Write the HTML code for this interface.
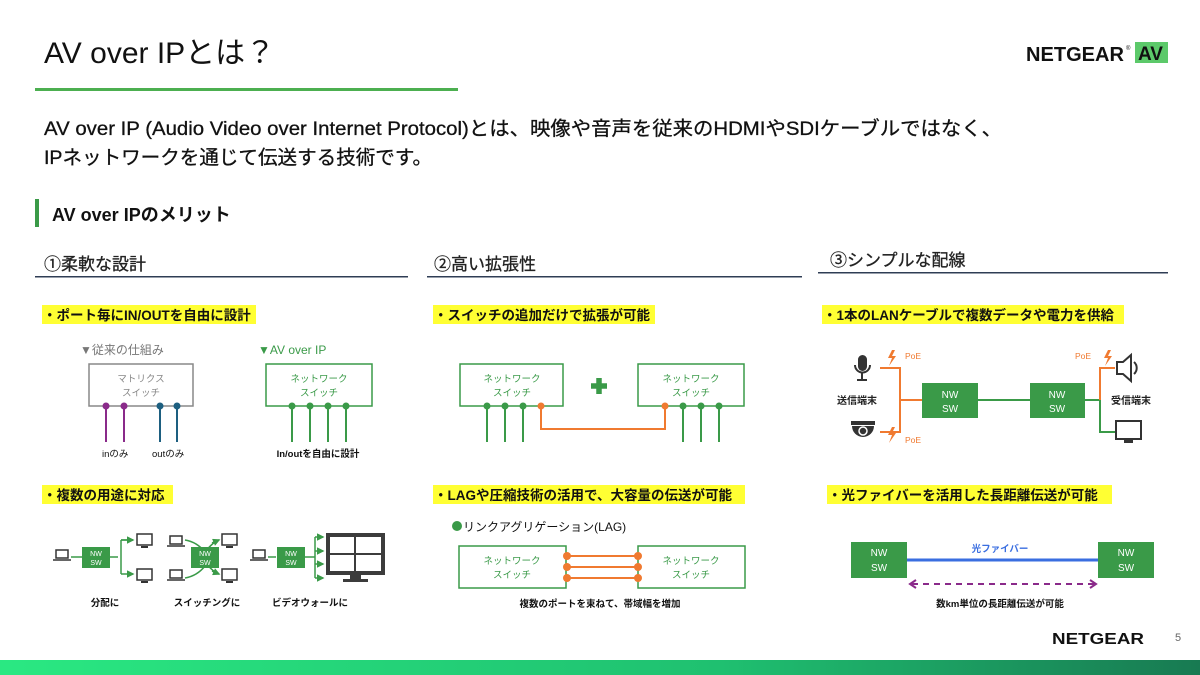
<!DOCTYPE html>
<html><head><meta charset="utf-8"><style>
html,body{margin:0;padding:0;background:#fff}
svg{display:block}
text{font-family:"Liberation Sans","Noto Sans CJK JP",sans-serif}
</style></head><body>
<svg width="1200" height="675" viewBox="0 0 1200 675" xmlns="http://www.w3.org/2000/svg">
<defs>
<linearGradient id="g" x1="0" x2="1"><stop offset="0" stop-color="#2ae882"/><stop offset="0.6" stop-color="#1fc070"/><stop offset="1" stop-color="#187a52"/></linearGradient>
<marker id="ah" viewBox="0 0 10 10" refX="8" refY="5" markerWidth="5" markerHeight="5" orient="auto"><path d="M0,0L10,5L0,10z" fill="#3a9a48"/></marker>
</defs>
<!-- header -->
<text x="44" y="63" font-size="30" fill="#111">AV over IPとは？</text>
<rect x="35" y="88" width="423" height="3" fill="#4caf50"/>
<text x="1026" y="61" font-size="20" font-weight="bold" fill="#111" textLength="98" lengthAdjust="spacingAndGlyphs">NETGEAR</text>
<text x="1126" y="50" font-size="6" fill="#111">®</text>
<rect x="1135" y="42" width="33" height="21" fill="#5cc96a"/>
<text x="1138" y="60" font-size="19" font-weight="bold" fill="#111">AV</text>
<text x="44" y="135" font-size="19.5" fill="#111" stroke="#111" stroke-width="0.3" textLength="958" lengthAdjust="spacingAndGlyphs">AV over IP (Audio Video over Internet Protocol)とは、映像や音声を従来のHDMIやSDIケーブルではなく、</text>
<text x="44" y="164" font-size="19.5" fill="#111" stroke="#111" stroke-width="0.3" textLength="388" lengthAdjust="spacingAndGlyphs">IPネットワークを通じて伝送する技術です。</text>
<rect x="35" y="199" width="4" height="28" fill="#3a9a48"/>
<text x="52" y="221" font-size="18" font-weight="bold" fill="#111">AV over IPのメリット</text>
<!-- section headers -->
<text x="44" y="270" font-size="17" fill="#222" stroke="#222" stroke-width="0.3">①柔軟な設計</text>
<rect x="35" y="276" width="373" height="1.5" fill="#2f3d55"/>
<text x="434" y="270" font-size="17" fill="#222" stroke="#222" stroke-width="0.3">②高い拡張性</text>
<rect x="427" y="276" width="375" height="1.5" fill="#2f3d55"/>
<text x="830" y="266" font-size="17" fill="#222" stroke="#222" stroke-width="0.3">③シンプルな配線</text>
<rect x="818" y="272" width="350" height="1.5" fill="#2f3d55"/>
<!-- highlights -->
<g font-size="13.5" font-weight="bold" fill="#111">
<rect x="42" y="305" width="214" height="19" fill="#ffff33"/><text x="43" y="320">・ポート毎にIN/OUTを自由に設計</text>
<rect x="433" y="305" width="222" height="19" fill="#ffff33"/><text x="434" y="320">・スイッチの追加だけで拡張が可能</text>
<rect x="822" y="305" width="302" height="19" fill="#ffff33"/><text x="823" y="320">・1本のLANケーブルで複数データや電力を供給</text>
<rect x="42" y="485" width="131" height="19" fill="#ffff33"/><text x="43" y="500">・複数の用途に対応</text>
<rect x="433" y="485" width="312" height="19" fill="#ffff33"/><text x="434" y="500">・LAGや圧縮技術の活用で、大容量の伝送が可能</text>
<rect x="827" y="485" width="285" height="19" fill="#ffff33"/><text x="828" y="500">・光ファイバーを活用した長距離伝送が可能</text>
</g>
<!-- diagram 1a -->
<text x="80" y="354" font-size="12" fill="#777">▼従来の仕組み</text>
<rect x="89" y="364" width="104" height="42" fill="none" stroke="#888" stroke-width="1.5"/>
<text x="141" y="382" font-size="9.5" fill="#888" text-anchor="middle">マトリクス</text>
<text x="141" y="396" font-size="9.5" fill="#888" text-anchor="middle">スイッチ</text>
<g stroke-width="2"><line x1="106" y1="406" x2="106" y2="442" stroke="#8a2a8a"/><line x1="124" y1="406" x2="124" y2="442" stroke="#8a2a8a"/><line x1="160" y1="406" x2="160" y2="442" stroke="#1d5f80"/><line x1="177" y1="406" x2="177" y2="442" stroke="#1d5f80"/></g>
<circle cx="106" cy="406" r="3.5" fill="#8a2a8a"/><circle cx="124" cy="406" r="3.5" fill="#8a2a8a"/><circle cx="160" cy="406" r="3.5" fill="#1d5f80"/><circle cx="177" cy="406" r="3.5" fill="#1d5f80"/>
<text x="102" y="457" font-size="9.5" fill="#111">inのみ</text><text x="152" y="457" font-size="9.5" fill="#111">outのみ</text>
<text x="258" y="354" font-size="12" fill="#3a9a48">▼AV over IP</text>
<rect x="266" y="364" width="106" height="42" fill="none" stroke="#3a9a48" stroke-width="1.5"/>
<text x="319" y="382" font-size="9.5" fill="#3a9a48" text-anchor="middle">ネットワーク</text>
<text x="319" y="396" font-size="9.5" fill="#3a9a48" text-anchor="middle">スイッチ</text>
<g stroke="#3a9a48" stroke-width="2"><line x1="292" y1="406" x2="292" y2="442"/><line x1="310" y1="406" x2="310" y2="442"/><line x1="328" y1="406" x2="328" y2="442"/><line x1="346" y1="406" x2="346" y2="442"/></g>
<g fill="#3a9a48"><circle cx="292" cy="406" r="3.5"/><circle cx="310" cy="406" r="3.5"/><circle cx="328" cy="406" r="3.5"/><circle cx="346" cy="406" r="3.5"/></g>
<text x="318" y="457" font-size="9.5" font-weight="bold" fill="#111" text-anchor="middle">In/outを自由に設計</text>
<!-- diagram 2a -->
<rect x="460" y="364" width="103" height="42" fill="none" stroke="#3a9a48" stroke-width="1.5"/>
<text x="512" y="382" font-size="9.5" fill="#3a9a48" text-anchor="middle">ネットワーク</text><text x="512" y="396" font-size="9.5" fill="#3a9a48" text-anchor="middle">スイッチ</text>
<rect x="638" y="364" width="106" height="42" fill="none" stroke="#3a9a48" stroke-width="1.5"/>
<text x="691" y="382" font-size="9.5" fill="#3a9a48" text-anchor="middle">ネットワーク</text><text x="691" y="396" font-size="9.5" fill="#3a9a48" text-anchor="middle">スイッチ</text>
<path d="M591,386h16M599,378v16" stroke="#3a9a48" stroke-width="5.5"/>
<g stroke="#3a9a48" stroke-width="2"><line x1="487" y1="406" x2="487" y2="442"/><line x1="505" y1="406" x2="505" y2="442"/><line x1="523" y1="406" x2="523" y2="442"/><line x1="683" y1="406" x2="683" y2="442"/><line x1="701" y1="406" x2="701" y2="442"/><line x1="719" y1="406" x2="719" y2="442"/></g>
<path d="M541,406V429H665V406" fill="none" stroke="#f07a30" stroke-width="2"/>
<g fill="#3a9a48"><circle cx="487" cy="406" r="3.5"/><circle cx="505" cy="406" r="3.5"/><circle cx="523" cy="406" r="3.5"/><circle cx="683" cy="406" r="3.5"/><circle cx="701" cy="406" r="3.5"/><circle cx="719" cy="406" r="3.5"/></g>
<circle cx="541" cy="406" r="3.5" fill="#f07a30"/><circle cx="665" cy="406" r="3.5" fill="#f07a30"/>
<!-- diagram 3a -->
<path d="M880,368H900V432H880M900,400H922" fill="none" stroke="#f07a30" stroke-width="2"/>
<rect x="922" y="383" width="56" height="35" fill="#3a9a48"/>
<text x="950" y="398" font-size="10" fill="#fff" text-anchor="middle">NW</text><text x="950" y="412" font-size="10" fill="#fff" text-anchor="middle">SW</text>
<line x1="978" y1="400" x2="1030" y2="400" stroke="#3a9a48" stroke-width="2"/>
<rect x="1030" y="383" width="55" height="35" fill="#3a9a48"/>
<text x="1057" y="398" font-size="10" fill="#fff" text-anchor="middle">NW</text><text x="1057" y="412" font-size="10" fill="#fff" text-anchor="middle">SW</text>
<path d="M1085,400H1100V432H1115" fill="none" stroke="#3a9a48" stroke-width="2"/>
<path d="M1100,400V368H1115" fill="none" stroke="#f07a30" stroke-width="2"/>
<g fill="#f07a30"><path d="M892,350l-4,8h4l-3,8l7,-10h-4l3,-6z"/><path d="M892,427l-4,8h4l-3,8l7,-10h-4l3,-6z"/><path d="M1108,350l-4,8h4l-3,8l7,-10h-4l3,-6z"/></g>
<g font-size="8.5" fill="#f07a30"><text x="905" y="359">PoE</text><text x="905" y="443">PoE</text><text x="1075" y="359">PoE</text></g>
<!-- mic -->
<rect x="858" y="355" width="9" height="16" rx="4.5" fill="#333"/>
<path d="M855,365a7.5,7.5 0 0 0 15,0" fill="none" stroke="#333" stroke-width="2"/><line x1="862" y1="373" x2="862" y2="380" stroke="#333" stroke-width="2"/><line x1="857" y1="380" x2="867" y2="380" stroke="#333" stroke-width="2"/>
<!-- camera -->
<rect x="851" y="421" width="24" height="4" fill="#333"/><path d="M852,426h22a11,11 0 0 1 -22,0z" fill="#333"/><circle cx="863" cy="431" r="4" fill="none" stroke="#fff" stroke-width="1.5"/>
<text x="837" y="404" font-size="10" font-weight="bold" fill="#222">送信端末</text>
<text x="1111" y="404" font-size="10" font-weight="bold" fill="#222">受信端末</text>
<!-- speaker -->
<path d="M1117,362h6l8,-7v26l-8,-7h-6z" fill="none" stroke="#333" stroke-width="2"/><path d="M1134,362a8,8 0 0 1 0,12" fill="none" stroke="#333" stroke-width="2"/>
<!-- monitor -->
<rect x="1116" y="421" width="25" height="18" fill="#fff" stroke="#333" stroke-width="2"/><rect x="1124" y="440" width="9" height="3" fill="#333"/>
<!-- row2 diagram 1 -->
<g stroke="#333" stroke-width="1.5" fill="none">
<rect x="56" y="550" width="12" height="8"/><line x1="53" y1="560" x2="71" y2="560"/>
<rect x="170" y="536" width="12" height="8"/><line x1="167" y1="546" x2="185" y2="546"/>
<rect x="170" y="570" width="12" height="8"/><line x1="167" y1="580" x2="185" y2="580"/>
<rect x="253" y="550" width="12" height="8"/><line x1="250" y1="560" x2="268" y2="560"/>
<rect x="137" y="534" width="15" height="11"/><rect x="137" y="569" width="15" height="11"/>
<rect x="222" y="534" width="15" height="11"/><rect x="222" y="569" width="15" height="11"/>
</g>
<g fill="#333"><rect x="141" y="546" width="7" height="2"/><rect x="141" y="581" width="7" height="2"/><rect x="226" y="546" width="7" height="2"/><rect x="226" y="581" width="7" height="2"/></g>
<g stroke="#3a9a48" stroke-width="1.5" fill="none">
<line x1="71" y1="557" x2="82" y2="557"/>
<path d="M110,557h8M121,540V574M121,540h12M121,574h12" marker-end="url(#ah)"/>
<path d="M121,540h12" marker-end="url(#ah)"/>
<path d="M185,540q12,2 20,12M185,578q12,-2 20,-12M205,552q8,-10 14,-12M205,562q8,10 14,12" />
<path d="M212,543l7,-3" marker-end="url(#ah)"/><path d="M212,571l7,3" marker-end="url(#ah)"/>
<line x1="268" y1="557" x2="276" y2="557"/>
<path d="M305,557h10M315,537V578"/>
<path d="M315,537h8" marker-end="url(#ah)"/><path d="M315,551h8" marker-end="url(#ah)"/><path d="M315,564h8" marker-end="url(#ah)"/><path d="M315,578h8" marker-end="url(#ah)"/>
</g>
<rect x="82" y="547" width="28" height="21" fill="#3a9a48"/><text x="96" y="556" font-size="7" fill="#fff" text-anchor="middle">NW</text><text x="96" y="565" font-size="7" fill="#fff" text-anchor="middle">SW</text>
<rect x="191" y="547" width="28" height="21" fill="#3a9a48"/><text x="205" y="556" font-size="7" fill="#fff" text-anchor="middle">NW</text><text x="205" y="565" font-size="7" fill="#fff" text-anchor="middle">SW</text>
<rect x="277" y="547" width="28" height="21" fill="#3a9a48"/><text x="291" y="556" font-size="7" fill="#fff" text-anchor="middle">NW</text><text x="291" y="565" font-size="7" fill="#fff" text-anchor="middle">SW</text>
<rect x="328" y="535" width="55" height="38" fill="#fff" stroke="#3c3c3c" stroke-width="4"/>
<line x1="355" y1="537" x2="355" y2="571" stroke="#3c3c3c" stroke-width="2"/><line x1="330" y1="554" x2="381" y2="554" stroke="#3c3c3c" stroke-width="2"/>
<rect x="350" y="575" width="11" height="4" fill="#3c3c3c"/><rect x="343" y="579" width="25" height="3" fill="#3c3c3c"/>
<g font-size="9.5" font-weight="bold" fill="#111" text-anchor="middle"><text x="105" y="606">分配に</text><text x="207" y="606">スイッチングに</text><text x="310" y="606">ビデオウォールに</text></g>
<!-- LAG -->
<circle cx="457" cy="526" r="5" fill="#3a9a48"/>
<text x="463" y="531" font-size="12" fill="#111">リンクアグリゲーション(LAG)</text>
<rect x="459" y="546" width="107" height="42" fill="none" stroke="#3a9a48" stroke-width="1.5"/>
<text x="512" y="564" font-size="9.5" fill="#3a9a48" text-anchor="middle">ネットワーク</text><text x="512" y="578" font-size="9.5" fill="#3a9a48" text-anchor="middle">スイッチ</text>
<rect x="638" y="546" width="107" height="42" fill="none" stroke="#3a9a48" stroke-width="1.5"/>
<text x="691" y="564" font-size="9.5" fill="#3a9a48" text-anchor="middle">ネットワーク</text><text x="691" y="578" font-size="9.5" fill="#3a9a48" text-anchor="middle">スイッチ</text>
<g stroke="#f07a30" stroke-width="2"><line x1="567" y1="556" x2="638" y2="556"/><line x1="567" y1="567" x2="638" y2="567"/><line x1="567" y1="578" x2="638" y2="578"/></g>
<g fill="#f07a30"><circle cx="567" cy="556" r="4"/><circle cx="567" cy="567" r="4"/><circle cx="567" cy="578" r="4"/><circle cx="638" cy="556" r="4"/><circle cx="638" cy="567" r="4"/><circle cx="638" cy="578" r="4"/></g>
<text x="600" y="607" font-size="9.5" font-weight="bold" fill="#111" text-anchor="middle">複数のポートを束ねて、帯域幅を増加</text>
<!-- fiber -->
<rect x="851" y="542" width="56" height="36" fill="#3a9a48"/><text x="879" y="556" font-size="10" fill="#fff" text-anchor="middle">NW</text><text x="879" y="571" font-size="10" fill="#fff" text-anchor="middle">SW</text>
<rect x="1098" y="542" width="56" height="36" fill="#3a9a48"/><text x="1126" y="556" font-size="10" fill="#fff" text-anchor="middle">NW</text><text x="1126" y="571" font-size="10" fill="#fff" text-anchor="middle">SW</text>
<line x1="907" y1="560" x2="1098" y2="560" stroke="#3a6ee0" stroke-width="3"/>
<text x="1000" y="552" font-size="9.5" font-weight="bold" fill="#3a6ee0" text-anchor="middle">光ファイバー</text>
<line x1="912" y1="584" x2="1094" y2="584" stroke="#8a2a8a" stroke-width="2" stroke-dasharray="6,5"/>
<path d="M916,580l-6,4l6,4M1090,580l6,4l-6,4" fill="none" stroke="#8a2a8a" stroke-width="2"/>
<text x="1000" y="607" font-size="9.5" font-weight="bold" fill="#111" text-anchor="middle">数km単位の長距離伝送が可能</text>
<!-- footer -->
<text x="1052" y="644" font-size="16" font-weight="bold" fill="#111" textLength="92" lengthAdjust="spacingAndGlyphs">NETGEAR</text>
<text x="1175" y="641" font-size="11" fill="#666">5</text>
<rect x="0" y="660" width="1200" height="15" fill="url(#g)"/>
</svg>
</body></html>
